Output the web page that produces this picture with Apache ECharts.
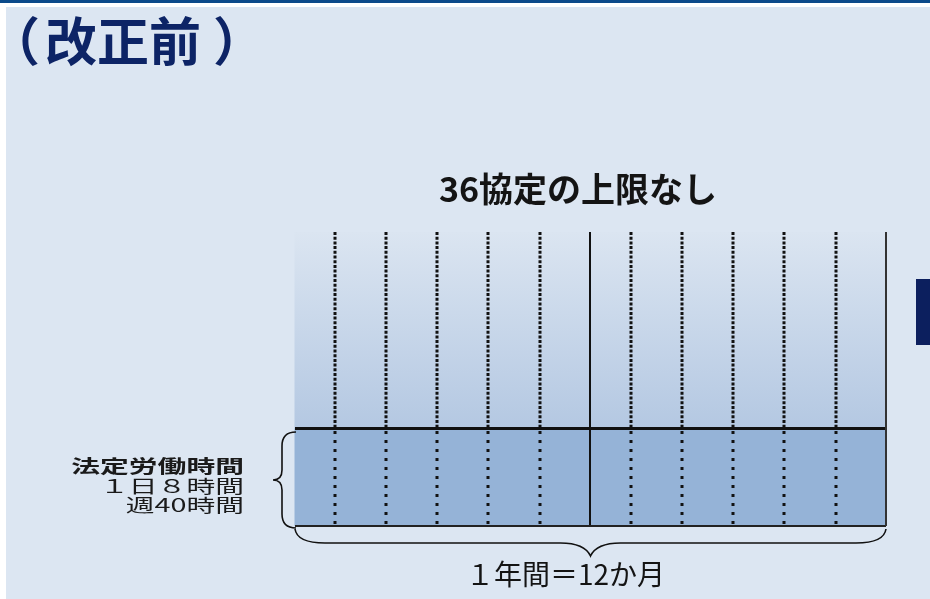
<!DOCTYPE html>
<html><head><meta charset="utf-8">
<script src="https://cdn.jsdelivr.net/npm/echarts@6/dist/echarts.min.js"></script>
<style>html,body{margin:0;padding:0;background:#fff}#c{width:930px;height:599px}</style>
</head><body><div id="c"></div>
<script>
// ---- data ----
const pageTitle = ['（', '改正前', '）'];
const chartTitle = '36協定の上限なし';
const legalLabel = ['法定労働時間', '１日８時間', '週40時間'];
const periodLabel = '１年間＝12か月';
const months = ['1月','2月','3月','4月','5月','6月','7月','8月','9月','10月','11月','12月'];
// month boundaries (in months)
const monthEdges = [0, 0.81, 1.85, 2.88, 3.92, 4.97, 5.99, 6.82, 7.86, 8.89, 9.93, 10.98, 12];
const legalHours = 1;   // statutory working-hours level
const overtimeTop = 3;  // no upper limit: drawn to the top
const halfYearIndex = 6; // solid divider

const chart = echarts.init(document.getElementById('c'), null, {renderer: 'canvas'});
const CJK = '"Noto Sans CJK JP", "Noto Sans", sans-serif';

const fillData = months.map((m, i) => [monthEdges[i], monthEdges[i + 1], legalHours, overtimeTop, i]);

function renderCol(params, api) {
  const x0 = api.coord([api.value(0), 0])[0];
  const x1 = api.coord([api.value(1), 0])[0];
  const yTop = api.coord([0, api.value(3)])[1];
  const yLeg = api.coord([0, api.value(2)])[1];
  const yBot = api.coord([0, 0])[1];
  const i = api.value(4);
  const children = [
    {type: 'rect', shape: {x: x0 - 0.5, y: yTop, width: x1 - x0 + 1, height: yLeg - yTop},
     style: {fill: new echarts.graphic.LinearGradient(0, 0, 0, 1, [
       {offset: 0, color: '#dbe5f1'}, {offset: 1, color: '#b4c8e2'}])}},
    {type: 'rect', shape: {x: x0 - 0.5, y: yLeg, width: x1 - x0 + 1, height: yBot - yLeg},
     style: {fill: '#95b3d7'}}
  ];
  if (i > 0) {
    const lx = Math.round(x0);
    if (i === halfYearIndex) {
      children.push({type: 'line', shape: {x1: lx, y1: yTop, x2: lx, y2: yBot},
        style: {stroke: '#111', lineWidth: 2}});
    } else {
      children.push({type: 'line', shape: {x1: lx, y1: yTop, x2: lx, y2: yLeg},
        style: {stroke: '#111', lineWidth: 3, lineDash: [3, 1.7]}});
      children.push({type: 'line', shape: {x1: lx, y1: yLeg, x2: lx, y2: yBot},
        style: {stroke: '#111', lineWidth: 3, lineDash: [3, 6], lineDashOffset: -3}});
    }
  }
  return {type: 'group', children};
}

function renderBraces(params, api) {
  const pL = api.coord([api.value(0), api.value(2)]);
  const pB = api.coord([api.value(0), 0]);
  const pR = api.coord([api.value(1), 0]);
  const mx = api.coord([(api.value(0) + api.value(1)) / 2, 0])[0];
  const bx = pL[0] + 1, by0 = pL[1] + 4, by1 = pB[1] + 2, bm = (by0 + by1) / 2;
  const leftBrace = `M ${bx} ${by0} Q ${bx-14} ${by0} ${bx-14} ${by0+14} L ${bx-14} ${bm-10} Q ${bx-14} ${bm} ${bx-23} ${bm} Q ${bx-14} ${bm} ${bx-14} ${bm+10} L ${bx-14} ${by1-14} Q ${bx-14} ${by1} ${bx} ${by1}`;
  const lx0 = pB[0], lx1 = pR[0], ly0 = pB[1] + 3, ly = pB[1] + 17, tipY = pB[1] + 30;
  const bottomBrace = `M ${lx0} ${ly0} Q ${lx0+2} ${ly} ${lx0+30} ${ly} L ${mx-30} ${ly} Q ${mx-6} ${ly} ${mx} ${tipY} Q ${mx+6} ${ly} ${mx+30} ${ly} L ${lx1-30} ${ly} Q ${lx1-2} ${ly} ${lx1} ${ly0}`;
  return {type: 'group', children: [
    {type: 'path', shape: {pathData: leftBrace}, style: {fill: 'none', stroke: '#111', lineWidth: 1.6}},
    {type: 'path', shape: {pathData: bottomBrace}, style: {fill: 'none', stroke: '#111', lineWidth: 1.6}}
  ]};
}

const option = {
  backgroundColor: '#dce6f2',
  animation: false,
  grid: {left: 295, right: 44, top: 232, bottom: 73},
  xAxis: {type: 'value', min: 0, max: 12, show: false},
  yAxis: {type: 'value', min: 0, max: 3, show: false},
  series: [{
    type: 'custom',
    renderItem: renderCol,
    data: fillData,
    encode: {x: [0, 1], y: [2, 3]},
    markLine: {
      silent: true, symbol: 'none', label: {show: false},
      data: [
        {yAxis: legalHours, lineStyle: {color: '#111', width: 3, type: 'solid'}},
        {yAxis: 0, lineStyle: {color: '#222', width: 2, type: 'solid'}},
        {xAxis: 12, lineStyle: {color: '#333', width: 2, type: 'solid'}}
      ]
    }
  }, {
    type: 'custom',
    renderItem: renderBraces,
    clip: false,
    silent: true,
    data: [[monthEdges[0], monthEdges[12], legalHours]],
    encode: {x: [0, 1], y: 2},
    z: 5
  }]
};
chart.setOption(option);

const pT = chart.convertToPixel({gridIndex: 0}, [(monthEdges[0] + monthEdges[12]) / 2, 0]);

chart.setOption({
  graphic: [
    {type: 'rect', x: 0, y: 0, shape: {width: 930, height: 3}, style: {fill: '#0b4a8a'}, silent: true},
    {type: 'rect', x: 0, y: 3, shape: {width: 930, height: 4}, style: {fill: '#ffffff'}, silent: true},
    {type: 'rect', x: 0, y: 3, shape: {width: 6, height: 596}, style: {fill: '#ffffff'}, silent: true},
    {type: 'rect', x: 916, y: 279, shape: {width: 14, height: 66}, style: {fill: '#0c1f5e'}, silent: true},
    {type: 'text', x: -12, y: 15, style: {
      text: '{a|' + pageTitle[0] + '}{b|' + pageTitle[1] + '}{c|' + pageTitle[2] + '}',
      font: 'bold 52px "Noto Sans CJK SC"', fill: '#0d2466', textVerticalAlign: 'top',
      rich: {
        a: {fontSize: 52, fontWeight: 'bold', fontFamily: 'Noto Sans CJK SC', fill: '#0d2466'},
        b: {fontSize: 52, fontWeight: 'bold', fontFamily: 'Noto Sans CJK SC', fill: '#0d2466', padding: [0, 0, 0, 5]},
        c: {fontSize: 52, fontWeight: 'bold', fontFamily: 'Noto Sans CJK SC', fill: '#0d2466', padding: [0, 0, 0, 12]}
      }}},
    {type: 'text', x: 578, y: 172, style: {text: chartTitle, font: 'bold 34px ' + CJK, fill: '#141414', textAlign: 'center', textVerticalAlign: 'top'}},
    {type: 'text', x: 244, y: 457, scaleX: 1.6, style: {text: legalLabel[0], font: 'bold 18px ' + CJK, fill: '#1a1a1a', textAlign: 'right', textVerticalAlign: 'top'}},
    {type: 'text', x: 244, y: 477, scaleX: 1.6, style: {text: legalLabel[1], font: '18px ' + CJK, fill: '#1a1a1a', textAlign: 'right', textVerticalAlign: 'top'}},
    {type: 'text', x: 244, y: 496, scaleX: 1.6, style: {text: legalLabel[2], font: '18px ' + CJK, fill: '#1a1a1a', textAlign: 'right', textVerticalAlign: 'top'}},
    {type: 'text', x: pT[0] - 25, y: pT[1] + 34, style: {text: periodLabel, font: '28px ' + CJK, fill: '#141414', textAlign: 'center', textVerticalAlign: 'top'}}
  ]
});
</script></body></html>
